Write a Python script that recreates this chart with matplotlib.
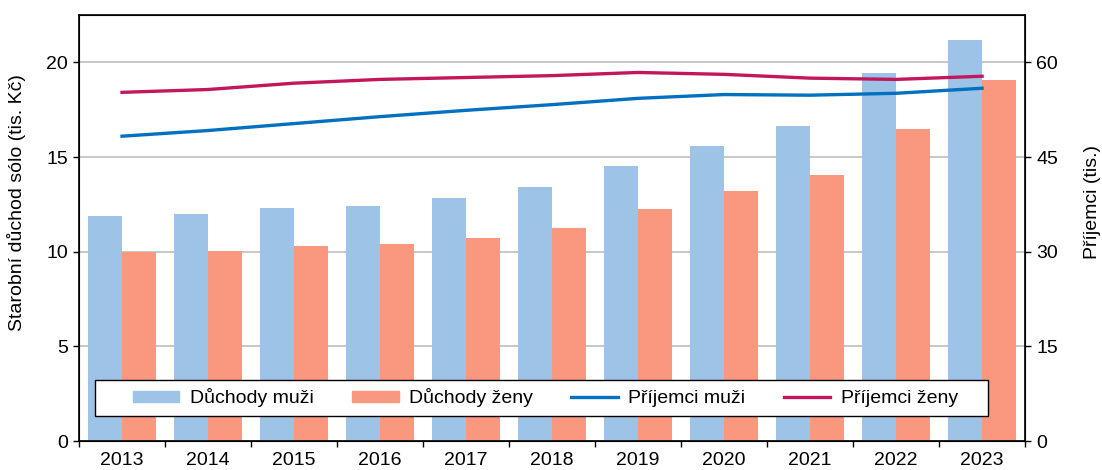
import numpy as np
import matplotlib.pyplot as plt
from matplotlib.patches import Patch, Rectangle
from matplotlib.lines import Line2D

plt.rcParams["font.family"] = ["Liberation Sans", "DejaVu Sans"]
plt.rcParams["font.size"] = 14

years = ["2013", "2014", "2015", "2016", "2017", "2018", "2019", "2020", "2021", "2022", "2023"]
duchody_muzi = [11.87, 11.98, 12.3, 12.4, 12.82, 13.4, 14.51, 15.57, 16.62, 19.42, 21.18]
duchody_zeny = [9.97, 10.03, 10.29, 10.4, 10.71, 11.24, 12.24, 13.19, 14.04, 16.46, 19.05]
prijemci_muzi = [48.3, 49.2, 50.3, 51.4, 52.4, 53.3, 54.3, 54.9, 54.8, 55.1, 55.9]
prijemci_zeny = [55.25, 55.7, 56.7, 57.3, 57.6, 57.9, 58.4, 58.1, 57.5, 57.3, 57.8]

c_bm = "#9DC3E6"
c_bz = "#F9977F"
c_lm = "#0070C0"
c_lz = "#C2185B"

fig = plt.figure(figsize=(11.02, 4.70), dpi=100)
ax = fig.add_axes([0.0717, 0.0617, 0.8585, 0.9063])
x = np.arange(len(years))
w = 0.4

ax.bar(x - w/2, duchody_muzi, w, color=c_bm, zorder=2)
ax.bar(x + w/2, duchody_zeny, w, color=c_bz, zorder=2)
ax.set_xlim(-0.5, len(years) - 0.5)
ax.set_ylim(0, 22.5)
ax.set_yticks([0, 5, 10, 15, 20])
ax.yaxis.grid(True, color="#BFBFBF", linewidth=1.2)
ax.set_axisbelow(True)
ax.set_xticks(x)
ax.set_xticklabels(years)
ax.set_xticks(np.arange(-0.5, len(years)), minor=True)
ax.tick_params(axis="x", which="major", length=0, pad=8)
ax.tick_params(axis="x", which="minor", length=4.5, width=1)
ax.tick_params(axis="y", length=4.5, width=1)
ax.set_ylabel("Starobní důchod sólo (tis. Kč)")
ax.yaxis.set_label_coords(-0.056, 0.56)
for s in ax.spines.values():
    s.set_linewidth(1.2)

ax2 = ax.twinx()
ax2.plot(x, prijemci_muzi, color=c_lm, linewidth=2.4, zorder=3)
ax2.plot(x, prijemci_zeny, color=c_lz, linewidth=2.4, zorder=3)
ax2.set_ylim(0, 67.5)
ax2.set_yticks([0, 15, 30, 45, 60])
ax2.tick_params(axis="y", length=4.5, width=1)
ax2.set_ylabel("Příjemci (tis.)")
ax2.yaxis.set_label_coords(1.062, 0.56)

# legend frame drawn separately
ax2.add_patch(Rectangle((0.017, 0.0587), 0.944, 0.0845, transform=ax2.transAxes,
                        facecolor="white", edgecolor="black", linewidth=1.0,
                        zorder=4))

handles = [Patch(color=c_bm), Patch(color=c_bz),
           Line2D([], [], color=c_lm, linewidth=2.4),
           Line2D([], [], color=c_lz, linewidth=2.4)]
labels = ["Důchody muži", "Důchody ženy", "Příjemci muži", "Příjemci ženy"]
leg = ax2.legend(handles, labels, ncol=4, loc="center",
                 bbox_to_anchor=(0.493, 0.101), frameon=False,
                 handlelength=2.4, handleheight=0.55, handletextpad=0.55,
                 columnspacing=1.95, borderaxespad=0, borderpad=0)
leg.set_zorder(5)

fig.savefig("out.png", dpi=100)
